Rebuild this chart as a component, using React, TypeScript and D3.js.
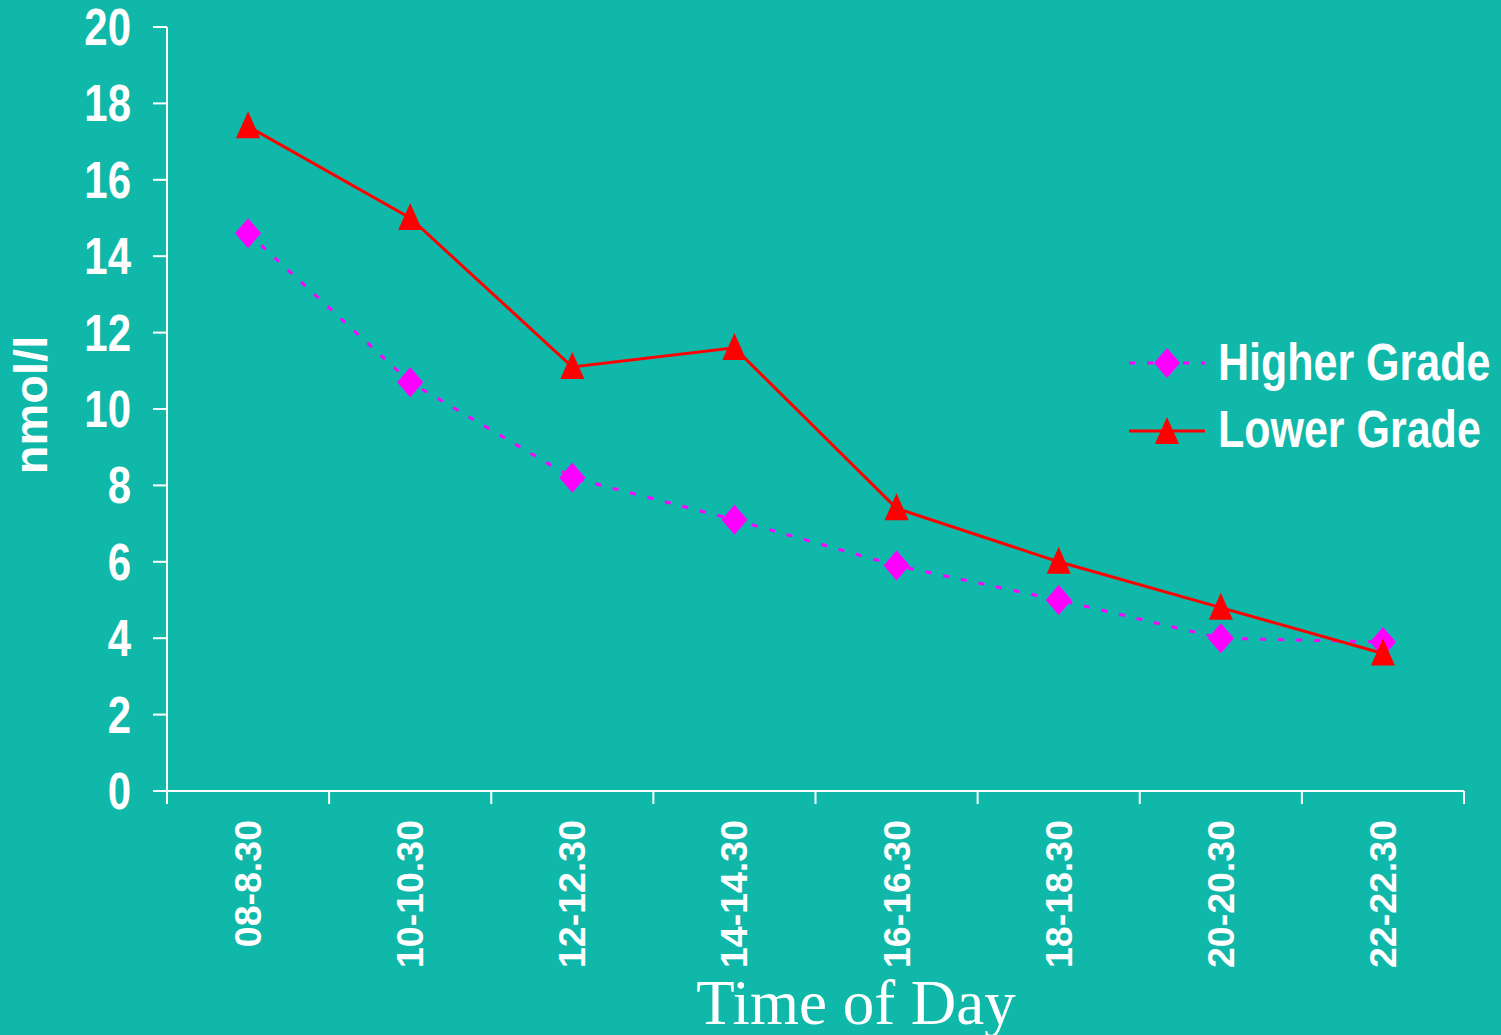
import { useRef, useEffect } from "react";
import * as d3 from "d3";

const categories = [
  "08-8.30",
  "10-10.30",
  "12-12.30",
  "14-14.30",
  "16-16.30",
  "18-18.30",
  "20-20.30",
  "22-22.30",
];
const higherGrade = [14.6, 10.7, 8.2, 7.1, 5.9, 5.0, 4.0, 3.9];
const lowerGrade = [17.4, 15.0, 11.1, 11.6, 7.4, 6.0, 4.8, 3.6];
const yTicks = [0, 2, 4, 6, 8, 10, 12, 14, 16, 18, 20];
const seriesNames = ["Higher Grade", "Lower Grade"];

const BG = "#0fb8a9";
const SANS = "'Liberation Sans', Arial, sans-serif";
const SERIF = "'Liberation Serif', 'Times New Roman', serif";

export default function App() {
  const svgRef = useRef<SVGSVGElement>(null);

  useEffect(() => {
    if (!svgRef.current) return;
    const svg = d3.select(svgRef.current);
    svg.selectAll("*").remove();

    const width = 1501;
    const height = 1035;
    const left = 167;
    const right = 1464;
    const top = 27;
    const bottom = 791;

    svg.attr("width", width).attr("height", height);
    svg.append("rect").attr("width", width).attr("height", height).attr("fill", BG);

    const x = d3.scaleBand().domain(categories).range([left, right]);
    const y = d3.scaleLinear().domain([0, 20]).range([bottom, top]);
    const cx = (c: string) => (x(c) ?? 0) + x.bandwidth() / 2;

    // Axes
    const axis = svg.append("g").attr("stroke", "#fff").attr("stroke-width", 2);
    axis.append("line").attr("x1", left).attr("x2", left).attr("y1", top).attr("y2", bottom);
    axis.append("line").attr("x1", left).attr("x2", right).attr("y1", bottom).attr("y2", bottom);
    axis
      .selectAll(".ytick")
      .data(yTicks)
      .join("line")
      .attr("x1", left - 14)
      .attr("x2", left)
      .attr("y1", (d) => y(d))
      .attr("y2", (d) => y(d));
    const edges = categories.map((c) => x(c) ?? 0).concat([right]);
    axis
      .selectAll(".xtick")
      .data(edges)
      .join("line")
      .attr("x1", (d) => d)
      .attr("x2", (d) => d)
      .attr("y1", bottom)
      .attr("y2", bottom + 13);

    // Y tick labels (tall bold text)
    svg
      .selectAll(".ylab")
      .data(yTicks)
      .join("text")
      .attr("transform", (d) => `translate(131,${y(d) + 18}) scale(1,1.22)`)
      .attr("text-anchor", "end")
      .attr("fill", "#fff")
      .attr("font-family", SANS)
      .attr("font-weight", "bold")
      .attr("font-size", 42)
      .text((d) => d);

    // X tick labels, rotated
    svg
      .selectAll(".xlab")
      .data(categories)
      .join("text")
      .attr("transform", (d) => `translate(${cx(d) + 13},820) rotate(-90)`)
      .attr("text-anchor", "end")
      .attr("fill", "#fff")
      .attr("font-family", SANS)
      .attr("font-weight", "bold")
      .attr("font-size", 37.5)
      .text((d) => d);

    // Axis titles
    svg
      .append("text")
      .attr("transform", "translate(47,405) rotate(-90)")
      .attr("text-anchor", "middle")
      .attr("fill", "#fff")
      .attr("font-family", SANS)
      .attr("font-weight", "bold")
      .attr("font-size", 47)
      .text("nmol/l");
    svg
      .append("text")
      .attr("x", 856)
      .attr("y", 1024)
      .attr("text-anchor", "middle")
      .attr("fill", "#fff")
      .attr("font-family", SERIF)
      .attr("font-size", 63)
      .text("Time of Day");

    const line = d3
      .line<number>()
      .x((_, i) => cx(categories[i]))
      .y((d) => y(d));

    const diamond = (px: number, py: number) =>
      `M${px},${py - 15}L${px + 13},${py}L${px},${py + 15}L${px - 13},${py}Z`;
    const triangle = (px: number, py: number) =>
      `M${px},${py - 15}L${px + 12},${py + 12}L${px - 12},${py + 12}Z`;

    // Higher grade (dotted magenta, diamonds)
    svg
      .append("path")
      .attr("d", line(higherGrade))
      .attr("fill", "none")
      .attr("stroke", "#ff00ff")
      .attr("stroke-width", 3)
      .attr("stroke-dasharray", "6,12");
    // Lower grade (solid red, triangles)
    svg
      .append("path")
      .attr("d", line(lowerGrade))
      .attr("fill", "none")
      .attr("stroke", "#ff0000")
      .attr("stroke-width", 3);

    svg
      .selectAll(".hg")
      .data(higherGrade)
      .join("path")
      .attr("d", (d, i) => diamond(cx(categories[i]), y(d)))
      .attr("fill", "#ff00ff");
    svg
      .selectAll(".lg")
      .data(lowerGrade)
      .join("path")
      .attr("d", (d, i) => triangle(cx(categories[i]), y(d)))
      .attr("fill", "#ff0000");

    // Legend
    const legend = svg.append("g");
    legend
      .append("line")
      .attr("x1", 1129)
      .attr("x2", 1205)
      .attr("y1", 363)
      .attr("y2", 363)
      .attr("stroke", "#ff00ff")
      .attr("stroke-width", 3)
      .attr("stroke-dasharray", "6,12");
    legend.append("path").attr("d", diamond(1167, 363)).attr("fill", "#ff00ff");
    legend
      .append("line")
      .attr("x1", 1129)
      .attr("x2", 1205)
      .attr("y1", 431)
      .attr("y2", 431)
      .attr("stroke", "#ff0000")
      .attr("stroke-width", 3);
    legend.append("path").attr("d", triangle(1167, 432)).attr("fill", "#ff0000");
    legend
      .selectAll(".ltext")
      .data(seriesNames)
      .join("text")
      .attr("transform", (_, i) => `translate(1218,${380 + i * 67}) scale(1,1.2)`)
      .attr("fill", "#fff")
      .attr("font-family", SANS)
      .attr("font-weight", "bold")
      .attr("font-size", 43)
      .text((d) => d);
  }, []);

  return (
    <div style={{ position: "absolute", left: 0, top: 0 }}>
      <svg ref={svgRef} style={{ display: "block" }} />
    </div>
  );
}
